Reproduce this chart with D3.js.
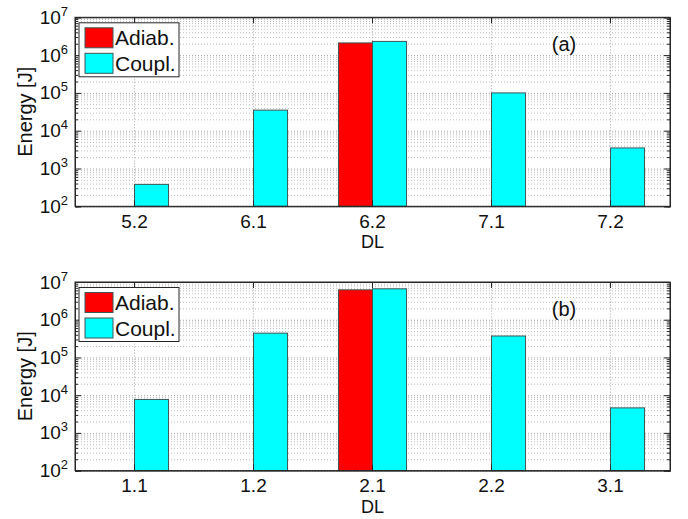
<!DOCTYPE html>
<html>
<head>
<meta charset="utf-8">
<script src="https://cdn.jsdelivr.net/npm/d3@7"></script>
<style>
  body { margin: 0; background: #fff; }
  svg { display: block; font-family: "Liberation Sans", Arial, sans-serif; }
</style>
</head>
<body>
<div id="chart"></div>
<script>
var width = 688, height = 519;
var plotLeft = 75, plotRight = 670;

// data
var seriesNames = ["Adiab.", "Coupl."];
var seriesColors = ["#ff0000", "#00ffff"];
var yTicks = [1e2, 1e3, 1e4, 1e5, 1e6, 1e7];

var catsA = ["5.2", "6.1", "6.2", "7.1", "7.2"];
var adiabA = [0, 0, 2.1e6, 0, 0];
var couplA = [380, 3.5e4, 2.3e6, 1.0e5, 3.5e3];

var catsB = ["1.1", "1.2", "2.1", "2.2", "3.1"];
var adiabB = [0, 0, 6.2e6, 0, 0];
var couplB = [7.7e3, 4.4e5, 6.6e6, 3.7e5, 4.6e3];

var panels = [
    { cats: catsA, vals: [adiabA, couplA], tag: "(a)", top: 17.3, bottom: 206.3 },
    { cats: catsB, vals: [adiabB, couplB], tag: "(b)", top: 282, bottom: 470.6 }
];

var svg = d3.select("#chart").append("svg")
    .attr("width", width)
    .attr("height", height);

panels.forEach(function(p) {
    var g = svg.append("g");

    var x = d3.scaleBand()
        .domain(p.cats)
        .range([plotLeft, plotRight]);
    var bw = x.bandwidth();
    // two bars side by side around the group centre
    var xs = d3.scaleBand()
        .domain(seriesNames)
        .range([bw * 0.214, bw * 0.786]);

    var y = d3.scaleLog()
        .domain([1e2, 1e7])
        .range([p.bottom, p.top]);

    var minors = y.ticks().filter(function(d) { return yTicks.indexOf(d) < 0; });

    // grid: minor, major, vertical
    g.append("g")
        .attr("transform", "translate(" + plotLeft + ",0)")
        .call(d3.axisLeft(y).tickValues(minors).tickSize(-(plotRight - plotLeft)).tickFormat(""))
        .call(function(s) {
            s.select(".domain").remove();
            s.selectAll("line").attr("stroke", "#bdbdbd").attr("stroke-dasharray", "1,2");
        });
    g.append("g")
        .attr("transform", "translate(" + plotLeft + ",0)")
        .call(d3.axisLeft(y).tickValues(yTicks).tickSize(-(plotRight - plotLeft)).tickFormat(""))
        .call(function(s) {
            s.select(".domain").remove();
            s.selectAll("line").attr("stroke", "#a8a8a8").attr("stroke-dasharray", "1,2");
        });
    g.append("g")
        .attr("transform", "translate(0," + p.bottom + ")")
        .call(d3.axisBottom(x).tickSize(-(p.bottom - p.top)).tickFormat(""))
        .call(function(s) {
            s.select(".domain").remove();
            s.selectAll("line").attr("stroke", "#a8a8a8").attr("stroke-dasharray", "1,2");
        });

    // bars
    var barData = [];
    p.cats.forEach(function(c, i) {
        seriesNames.forEach(function(s, j) {
            if (p.vals[j][i] > 0) barData.push({ cat: c, series: s, idx: j, value: p.vals[j][i] });
        });
    });

    g.selectAll("rect.bar")
        .data(barData)
        .enter().append("rect")
        .attr("class", "bar")
        .attr("x", function(d) { return x(d.cat) + xs(d.series); })
        .attr("width", xs.bandwidth())
        .attr("y", function(d) { return y(d.value); })
        .attr("height", function(d) { return p.bottom - y(d.value); })
        .attr("fill", function(d) { return seriesColors[d.idx]; })
        .attr("stroke", "#3f5656")
        .attr("stroke-width", 1);

    // axes with inside ticks
    var yAxis = g.append("g")
        .attr("transform", "translate(" + plotLeft + ",0)")
        .call(d3.axisLeft(y).tickValues(yTicks).tickSize(-6).tickPadding(7));
    yAxis.selectAll("text")
        .attr("font-size", 19)
        .attr("fill", "#111")
        .text("10")
        .each(function(d) {
            d3.select(this).append("tspan")
                .attr("dy", -8)
                .attr("font-size", 13)
                .text(Math.round(Math.log10(d)));
        });
    g.append("g")
        .attr("transform", "translate(" + plotLeft + ",0)")
        .call(d3.axisLeft(y).tickValues(minors).tickSize(-3).tickFormat(""));
    g.append("g")
        .attr("transform", "translate(" + plotRight + ",0)")
        .call(d3.axisRight(y).tickValues(yTicks).tickSize(-6).tickFormat(""));
    g.append("g")
        .attr("transform", "translate(" + plotRight + ",0)")
        .call(d3.axisRight(y).tickValues(minors).tickSize(-3).tickFormat(""));

    var xAxis = g.append("g")
        .attr("transform", "translate(0," + p.bottom + ")")
        .call(d3.axisBottom(x).tickSize(-6).tickPadding(8));
    xAxis.selectAll("text").attr("font-size", 19).attr("fill", "#111");
    g.append("g")
        .attr("transform", "translate(0," + p.top + ")")
        .call(d3.axisTop(x).tickSize(-6).tickFormat(""));

    g.selectAll(".domain").attr("stroke", "#262626");
    g.selectAll(".tick line").filter(function() { return !this.getAttribute("stroke-dasharray"); })
        .attr("stroke", "#262626");

    // box
    g.append("rect")
        .attr("x", plotLeft)
        .attr("y", p.top)
        .attr("width", plotRight - plotLeft)
        .attr("height", p.bottom - p.top)
        .attr("fill", "none")
        .attr("stroke", "#262626")
        .attr("stroke-width", 1);

    // axis titles
    g.append("text")
        .attr("transform", "translate(32," + ((p.top + p.bottom) / 2) + ") rotate(-90)")
        .attr("text-anchor", "middle")
        .attr("font-size", 20)
        .attr("fill", "#111")
        .text("Energy [J]");
    g.append("text")
        .attr("x", (plotLeft + plotRight) / 2)
        .attr("y", p.bottom + 42)
        .attr("text-anchor", "middle")
        .attr("font-size", 18)
        .attr("fill", "#111")
        .text("DL");

    g.append("text")
        .attr("x", 564)
        .attr("y", p.top + 34)
        .attr("text-anchor", "middle")
        .attr("font-size", 20)
        .attr("fill", "#111")
        .text(p.tag);

    // legend
    var lg = g.append("g").attr("transform", "translate(79," + (p.top + 5.5) + ")");
    lg.append("rect")
        .attr("width", 100)
        .attr("height", 54)
        .attr("fill", "#fff")
        .attr("stroke", "#262626");
    seriesNames.forEach(function(s, j) {
        lg.append("rect")
            .attr("x", 6)
            .attr("y", 5 + j * 25.5)
            .attr("width", 28)
            .attr("height", 20)
            .attr("fill", seriesColors[j])
            .attr("stroke", "#3f5656");
        lg.append("text")
            .attr("x", 36)
            .attr("y", 22.5 + j * 25.5)
            .attr("font-size", 21)
            .attr("fill", "#111")
            .text(s);
    });
});
</script>
</body>
</html>
